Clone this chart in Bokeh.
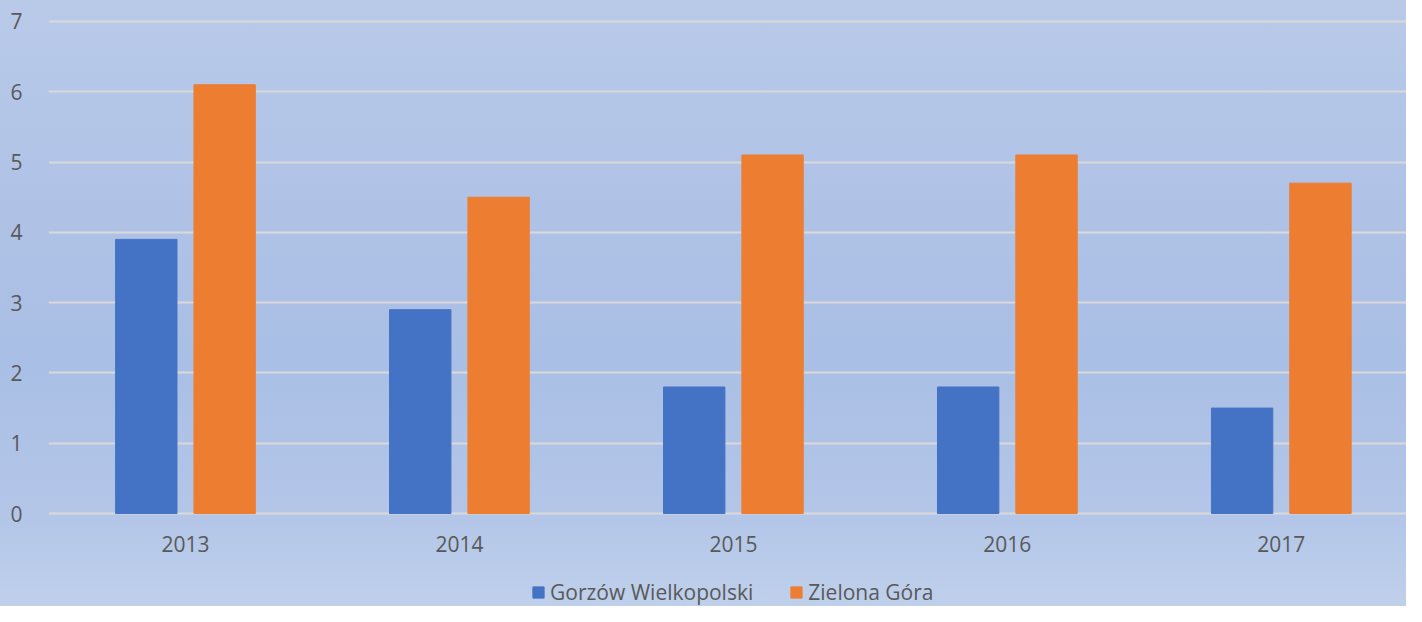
import numpy as np
from bokeh.plotting import figure
from bokeh.models import ColumnDataSource, Range1d, FixedTicker, Legend, LegendItem
from bokeh.core.properties import value
from bokeh.embed import file_html
from bokeh.resources import INLINE

years = ["2013", "2014", "2015", "2016", "2017"]
gorzow = [3.9, 2.9, 1.8, 1.8, 1.5]
zielona = [6.1, 4.5, 5.1, 5.1, 4.7]
series_names = ["Gorzów Wielkopolski", "Zielona Góra"]
colors = ["#4472C4", "#ED7D31"]
y_ticks = [0, 1, 2, 3, 4, 5, 6, 7]

centers = np.arange(len(years)) + 0.5
src = ColumnDataSource(dict(
    xc=centers, xg=centers - 0.143, xz=centers + 0.143, g=gorzow, z=zielona,
    label=years, ly=[-0.427] * len(years),
))

p = figure(width=1406, height=606, output_backend="svg", toolbar_location=None,
           x_range=Range1d(0, 4.957), y_range=Range1d(-1.323, 7.128),
           min_border_left=48, min_border_right=0, min_border_top=12, min_border_bottom=0)
p.styles = {"background": "linear-gradient(to bottom, #b9cae9 0%, #afc2e6 35%, #aabfe5 60%, #b3c6e8 85%, #bfd0eb 100%)"}
p.background_fill_color = None
p.border_fill_color = None
p.outline_line_color = None

r1 = p.vbar(x="xg", top="g", width=0.224, source=src, color=colors[0])
r2 = p.vbar(x="xz", top="z", width=0.224, source=src, color=colors[1])

font = "Open Sans"
tc = "#595959"
fs = "21px"

# category labels (x axis)
p.text(x="xc", y="ly", text="label", source=src, text_align="center", text_baseline="middle",
       text_font=value(font), text_font_size=fs, text_color=tc)
p.xaxis.visible = False

p.xgrid.grid_line_color = None
p.ygrid.grid_line_color = "#d9d9d9"
p.ygrid.grid_line_width = 2
p.ygrid.ticker = FixedTicker(ticks=y_ticks)

p.yaxis.ticker = FixedTicker(ticks=y_ticks)
ax = p.yaxis[0]
ax.axis_line_color = None
ax.major_tick_line_color = None
ax.minor_tick_line_color = None
ax.major_label_text_font = font
ax.major_label_text_font_size = fs
ax.major_label_text_color = tc
ax.major_label_standoff = 20

legend = Legend(items=[LegendItem(label=series_names[0], renderers=[r1]),
                       LegendItem(label=series_names[1], renderers=[r2])],
                orientation="horizontal", location=(483, 0),
                glyph_width=14, glyph_height=14, label_standoff=5, spacing=36,
                label_text_font=font, label_text_font_size=fs, label_text_color=tc,
                border_line_color=None, background_fill_alpha=0, padding=0, margin=0)
p.add_layout(legend, "center")

open("out.html", "w").write(file_html(p, INLINE))
